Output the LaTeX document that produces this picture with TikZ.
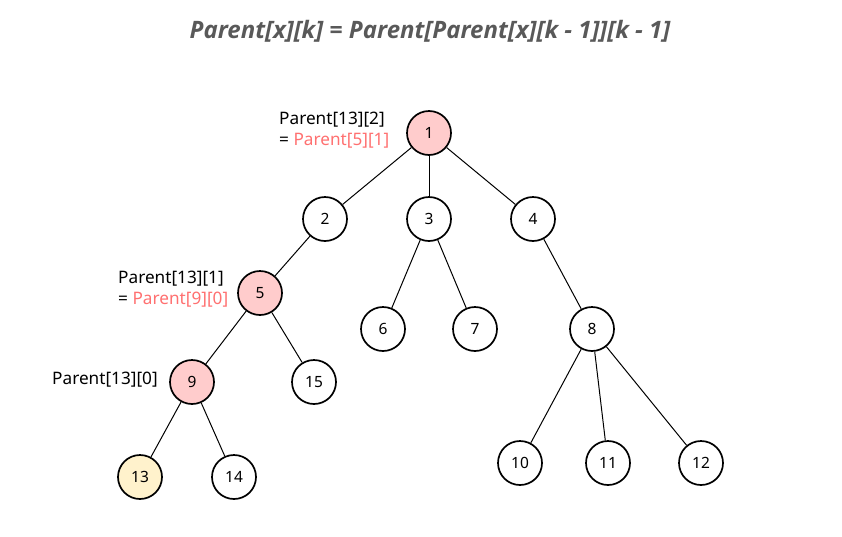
\documentclass[tikz,border=0pt]{standalone}
\usepackage{fontspec}
\setmainfont{Noto Sans}
\newfontfamily\titlefont{Open Sans}
\definecolor{pinkfill}{HTML}{FFCCCC}
\definecolor{yellowfill}{HTML}{FFF2CC}
\definecolor{redtext}{HTML}{FF7070}
\definecolor{titlegray}{HTML}{595959}
\begin{document}
\begin{tikzpicture}[x=1pt,y=-1pt,
  tn/.style={circle,draw=black,line width=1.7pt,minimum size=44pt,inner sep=0pt,fill=white,font=\fontsize{15.5}{18}\selectfont},
  hl/.style={tn,fill=pinkfill},
  tg/.style={tn,fill=yellowfill},
  edge/.style={draw=black,line width=1pt},
  lbl/.style={font=\fontsize{17.2}{20.5}\selectfont,align=left,inner sep=0pt}]
\useasboundingbox (0,0) rectangle (842,536);
\node[font=\titlefont\bfseries\itshape\fontsize{24}{28}\selectfont,text=titlegray] (title) at (430,31) {Parent[x][k] = Parent[Parent[x][k - 1]][k - 1]};
\node[hl] (n1) at (429,133) {1};
\node[tn] (n2) at (325,219) {2};
\node[tn] (n3) at (429,219) {3};
\node[tn] (n4) at (533,219) {4};
\node[hl] (n5) at (260,293) {5};
\node[tn] (n6) at (383,329) {6};
\node[tn] (n7) at (475,329) {7};
\node[tn] (n8) at (592,329) {8};
\node[hl] (n9) at (192,382) {9};
\node[tn] (n15) at (314,382) {15};
\node[tn] (n10) at (520,463) {10};
\node[tn] (n11) at (608,463) {11};
\node[tn] (n12) at (701,463) {12};
\node[tg] (n13) at (140,477) {13};
\node[tn] (n14) at (234,477) {14};
\foreach \a/\b in {n1/n2,n1/n3,n1/n4,n2/n5,n3/n6,n3/n7,n4/n8,n5/n9,n5/n15,n9/n13,n9/n14,n8/n10,n8/n11,n8/n12}
  \path[edge] (\a) -- (\b);
\node[lbl,anchor=north west] (l2) at (279,112) {Parent[13][2]\\= \textcolor{redtext}{Parent[5][1]}};
\node[lbl,anchor=north west] (l1) at (118,271) {Parent[13][1]\\= \textcolor{redtext}{Parent[9][0]}};
\node[lbl,anchor=west] (l0) at (52,380) {Parent[13][0]};
\end{tikzpicture}
\end{document}
